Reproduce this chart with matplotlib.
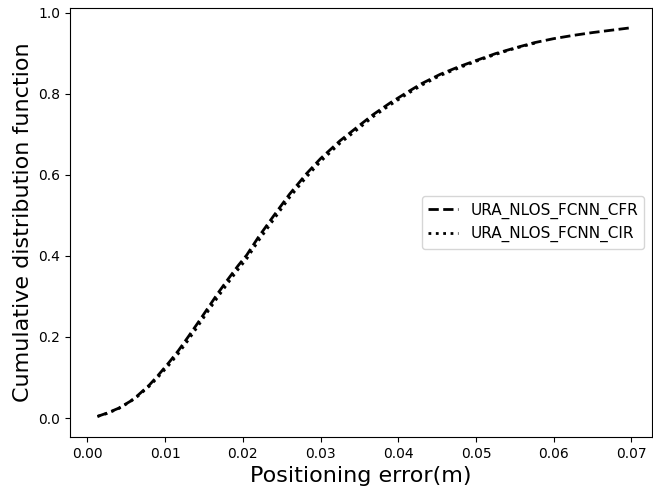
import matplotlib
matplotlib.use("Agg")
import matplotlib.pyplot as plt

# Empirical CDF of positioning error for the two FCNN input types
err_cfr = [0.0013, 0.0025, 0.0040, 0.0055, 0.0065, 0.0080, 0.0090, 0.0105,
           0.0117, 0.0130, 0.0143, 0.0155, 0.0168, 0.0180, 0.0194, 0.0205,
           0.0220, 0.0239, 0.0260, 0.0282, 0.0300, 0.0325, 0.0350, 0.0368,
           0.0390, 0.0411, 0.0430, 0.0454, 0.0477, 0.0500, 0.0525, 0.0550,
           0.0575, 0.0600, 0.0625, 0.0650, 0.0675, 0.0700]
cdf_cfr = [0.004, 0.012, 0.024, 0.041, 0.056, 0.082, 0.103, 0.137,
           0.166, 0.201, 0.237, 0.271, 0.308, 0.340, 0.376, 0.402,
           0.446, 0.497, 0.552, 0.603, 0.640, 0.684, 0.722, 0.749,
           0.778, 0.803, 0.825, 0.848, 0.866, 0.882, 0.899, 0.913,
           0.926, 0.936, 0.944, 0.951, 0.957, 0.963]

err_cir = [0.0013, 0.0025, 0.0040, 0.0055, 0.0065, 0.0080, 0.0090, 0.0105,
           0.0117, 0.0130, 0.0143, 0.0155, 0.0168, 0.0180, 0.0194, 0.0205,
           0.0220, 0.0239, 0.0260, 0.0282, 0.0300, 0.0325, 0.0350, 0.0368,
           0.0390, 0.0411, 0.0430, 0.0454, 0.0477, 0.0500, 0.0525, 0.0550,
           0.0580]
cdf_cir = [0.004, 0.011, 0.023, 0.040, 0.054, 0.079, 0.099, 0.131,
           0.159, 0.193, 0.229, 0.263, 0.299, 0.331, 0.367, 0.393,
           0.437, 0.488, 0.544, 0.595, 0.633, 0.678, 0.716, 0.744,
           0.773, 0.799, 0.821, 0.845, 0.863, 0.880, 0.897, 0.912,
           0.927]

series_names = ["URA_NLOS_FCNN_CFR", "URA_NLOS_FCNN_CIR"]

fig = plt.figure(figsize=(6.53, 4.90), dpi=100)
ax = fig.add_axes([0.107, 0.108, 0.8915, 0.876])

ax.plot(err_cfr, cdf_cfr, color="black", linestyle="--", linewidth=2,
        label=series_names[0])
ax.plot(err_cir, cdf_cir, color="black", linestyle=":", linewidth=2,
        label=series_names[1])

ax.set_xlim(-0.00225, 0.07265)
ax.set_ylim(-0.047, 1.012)
ax.set_xticks([0.00, 0.01, 0.02, 0.03, 0.04, 0.05, 0.06, 0.07])
ax.set_yticks([0.0, 0.2, 0.4, 0.6, 0.8, 1.0])

ax.set_xlabel("Positioning error(m)", fontsize=16)
ax.set_ylabel("Cumulative distribution function", fontsize=16)
ax.legend(loc="center right", fontsize=11)

fig.savefig("out.png", dpi=100)
